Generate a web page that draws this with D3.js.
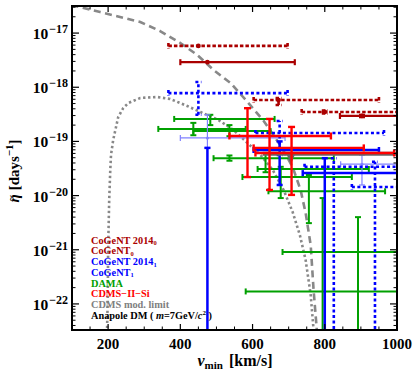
<!DOCTYPE html>
<html><head><meta charset="utf-8">
<script src="https://cdn.jsdelivr.net/npm/d3@7"></script>
<style>
body{margin:0;background:#fff}
svg{display:block}
text{font-family:"Liberation Serif","Times New Roman",serif;font-weight:bold}
</style>
</head><body><svg id="c" width="413" height="372"></svg>
<script>
// ---------- data (v_min in km/s, eta-tilde in days^-1) ----------
const xTicks = [200, 400, 600, 800, 1000];
const yDecades = [-22, -21, -20, -19, -18, -17];

const cogent2014_0 = [ // dotted dark red
  {v:450, vLo:367, vHi:697, eta:5.8e-18, etaLo:5.8e-18, etaHi:5.8e-18},
  {v:672, vLo:603, vHi:950, eta:5.8e-19, etaLo:4.7e-19, etaHi:6.3e-19},
  {v:800, vLo:736, vHi:1100, eta:3.5e-19, etaLo:3.3e-19, etaHi:3.7e-19}
];
const cogent_0 = [ // solid dark red
  {v:475, vLo:400, vHi:717, eta:2.9e-18, etaLo:2.9e-18, etaHi:2.9e-18},
  {v:903, vLo:842, vHi:1100, eta:2.95e-19, etaLo:2.8e-19, etaHi:3.1e-19}
];
const cogent2014_1 = [ // dotted blue
  {v:450, vLo:367, vHi:697, eta:7.8e-19, etaLo:3.1e-19, etaHi:1.25e-18},
  {v:675, vLo:608, vHi:964, eta:1.43e-19, etaLo:5.6e-20, etaHi:2.38e-19},
  {v:825, vLo:744, vHi:1100, eta:3.4e-20, etaLo:1e-25, etaHi:4.9e-20},
  {v:939, vLo:875, vHi:1100, eta:1.44e-20, etaLo:1e-25, etaHi:4.2e-20}
];
const cogent_1 = [ // solid blue
  {v:475, vLo:475, vHi:475, eta:7.6e-20, etaLo:1e-25, etaHi:7.6e-20},
  {v:675, vLo:603, vHi:950, eta:6.95e-20, etaLo:1.57e-20, etaHi:1.0e-19},
  {v:800, vLo:739, vHi:1100, eta:2.6e-20, etaLo:1e-25, etaHi:4.9e-20}
];
const cogent_1Faint = [ // light blue
  {v:475, vLo:400, vHi:690, eta:1.16e-19, etaLo:7.6e-20, etaHi:3.1e-19},
  {v:903, vLo:844, vHi:1100, eta:3.8e-20, etaLo:1.57e-20, etaHi:5.6e-20}
];
const dama = [
  {v:483, vLo:383, vHi:661, eta:2.6e-19, etaLo:2.0e-19, etaHi:3.1e-19},
  {v:436, vLo:339, vHi:581, eta:1.7e-19, etaLo:1.3e-19, etaHi:2.2e-19},
  {v:536, vLo:436, vHi:650, eta:1.55e-19, etaLo:1.25e-19, etaHi:2.0e-19},
  {v:536, vLo:492, vHi:825, eta:4.9e-20, etaLo:4.4e-20, etaHi:5.5e-20},
  {v:636, vLo:614, vHi:922, eta:3.1e-20, etaLo:2.7e-20, etaHi:6.1e-20},
  {v:756, vLo:572, vHi:875, eta:2.2e-20, etaLo:3.1e-21, etaHi:2.4e-20},
  {v:678, vLo:644, vHi:967, eta:1.2e-20, etaLo:9.0e-21, etaHi:3.4e-20},
  {v:892, vLo:683, vHi:1100, eta:9.1e-22, etaLo:1e-25, etaHi:4.0e-21},
  {v:794, vLo:581, vHi:1100, eta:1.7e-22, etaLo:1e-25, etaHi:9.0e-21}
];
const cdmsSi = [
  {v:586, vLo:536, vHi:817, eta:1.26e-19, etaLo:2.2e-20, etaHi:4.1e-19},
  {v:647, vLo:603, vHi:908, eta:7.6e-20, etaLo:1.27e-20, etaHi:2.6e-19},
  {v:708, vLo:608, vHi:992, eta:6.1e-20, etaLo:1.03e-20, etaHi:1.85e-19}
];
const cdmsModLimit = {vLo:628, vHi:1100, eta:5.9e-20, vArrow:706};

const curveDashed = [
  [100,3.44e-17],[108,3.16e-17],[122,3.03e-17],[178,2.45e-17],[233,1.98e-17],
  [289,1.60e-17],[344,1.09e-17],[400,6.56e-18],[447,3.94e-18],[492,2.08e-18],
  [539,1.20e-18],[586,5.35e-19],[631,2.38e-19],[678,8.24e-20],[711,3.37e-20],
  [733,1.27e-20],[747,4.78e-21],[761,1.22e-21],[769,1.81e-22],[778,3.30e-23],[782,1e-23]
];
const curveDotted = [
  [197,1e-23],[197,3.3e-23],[199,1.18e-22],[200,9.9e-22],[203,8.3e-21],[206,2.97e-20],
  [208,5.61e-20],[214,1.06e-19],[228,2.82e-19],[242,4.14e-19],[256,5.12e-19],
  [289,6.34e-19],[336,6.61e-19],[372,6.07e-19],[419,4.51e-19],[456,3.49e-19],
  [506,2.48e-19],[547,1.63e-19],[586,9.35e-20],[622,5.61e-20],[656,2.97e-20],
  [686,1.27e-20],[711,4.98e-21],[731,1.87e-21],[747,6.47e-22],[761,1.46e-22],[769,3.3e-23],[771,1e-23]
];

const legendItems = [
  {text:"CoGeNT 2014", sub:"0", color:"#aa0000"},
  {text:"CoGeNT", sub:"0", color:"#aa0000"},
  {text:"CoGeNT 2014", sub:"1", color:"#0000ff"},
  {text:"CoGeNT", sub:"1", color:"#0000ff"},
  {text:"DAMA", color:"#00a000"},
  {text:"CDMS\u2212II\u2212Si", color:"#ff0000"},
  {text:"CDMS mod. limit", color:"#808080"},
  {anapole:true, color:"#000000"}
];

// ---------- layout ----------
const L=72, R=397, T=6, B=330;
const x = d3.scaleLinear([100,1000],[L,R]);
const y = d3.scaleLog([3.30e-23,3.162e-17],[B,T]);
const svg = d3.select("#c");

svg.append("defs").append("clipPath").attr("id","clip")
  .append("rect").attr("x",L).attr("y",T).attr("width",R-L).attr("height",B-T);
const plot = svg.append("g").attr("clip-path","url(#clip)");

// curves
const line = d3.line().x(d=>x(d[0])).y(d=>y(d[1]));
plot.append("path").attr("d",line(curveDotted)).attr("fill","none")
  .attr("stroke","#888").attr("stroke-width",2.6).attr("stroke-dasharray","2.4,2.6");
plot.append("path").attr("d",line(curveDashed)).attr("fill","none")
  .attr("stroke","#888").attr("stroke-width",2.6).attr("stroke-dasharray","7,4.5");

function bars(data, o){
  const g = plot.append("g").attr("stroke",o.color).attr("stroke-width",o.w)
    .attr("fill","none");
  if(o.dash) g.attr("stroke-dasharray",o.dash);
  const c = o.cap;
  data.forEach(d=>{
    const cx=x(d.v), cy=y(d.eta);
    if(d.vHi>d.vLo){
      g.append("line").attr("x1",x(d.vLo)).attr("x2",x(d.vHi)).attr("y1",cy).attr("y2",cy);
      g.append("line").attr("x1",x(d.vLo)).attr("x2",x(d.vLo)).attr("y1",cy-c).attr("y2",cy+c).attr("stroke-dasharray",null);
      g.append("line").attr("x1",x(d.vHi)).attr("x2",x(d.vHi)).attr("y1",cy-c).attr("y2",cy+c).attr("stroke-dasharray",null);
    }
    if(d.etaHi>d.etaLo){
      g.append("line").attr("x1",cx).attr("x2",cx).attr("y1",y(d.etaLo)).attr("y2",y(d.etaHi));
      g.append("line").attr("x1",cx-c).attr("x2",cx+c).attr("y1",y(d.etaLo)).attr("y2",y(d.etaLo)).attr("stroke-dasharray",null);
      g.append("line").attr("x1",cx-c).attr("x2",cx+c).attr("y1",y(d.etaHi)).attr("y2",y(d.etaHi)).attr("stroke-dasharray",null);
    }
    if(o.marker){
      plot.append("circle").attr("cx",cx).attr("cy",cy).attr("r",o.marker).attr("fill",o.color);
    }
  });
}

bars(dama,{color:"#00a000",w:2,cap:3});
bars(cogent_1Faint,{color:"#8080ff",w:1.2,cap:3,marker:1.5});
bars(cogent_1,{color:"#0000ff",w:2.5,cap:3});
bars(cogent2014_1,{color:"#0000ff",w:2.6,cap:3,dash:"3,2.5"});
bars(cogent_0,{color:"#aa0000",w:2.2,cap:3,marker:2.4});
bars(cogent2014_0,{color:"#aa0000",w:2.6,cap:3,dash:"3.5,2",marker:2.4});

// CDMS modulation limit band with arrow
plot.append("line").attr("x1",x(cdmsModLimit.vLo)).attr("x2",x(cdmsModLimit.vHi))
  .attr("y1",y(cdmsModLimit.eta)).attr("y2",y(cdmsModLimit.eta))
  .attr("stroke","#666").attr("stroke-width",4);
{
  const ax=x(cdmsModLimit.vArrow), ay=y(cdmsModLimit.eta);
  plot.append("path").attr("d",`M${ax-4},${ay+1}L${ax+4},${ay+1}L${ax},${ay+11}Z`).attr("fill","#666");
}
bars(cdmsSi,{color:"#ff0000",w:2.4,cap:3.5});

// ---------- axes ----------
const ax = svg.append("g");
const xMinor = d3.range(150,1000,50).filter(v=>!xTicks.includes(v));
function xTickLines(yy, dir){
  xTicks.forEach(v=>ax.append("line").attr("x1",x(v)).attr("x2",x(v)).attr("y1",yy).attr("y2",yy+dir*6).attr("stroke","#000").attr("stroke-width",1.2));
  xMinor.forEach(v=>ax.append("line").attr("x1",x(v)).attr("x2",x(v)).attr("y1",yy).attr("y2",yy+dir*3.5).attr("stroke","#000").attr("stroke-width",1));
}
xTickLines(B,-1); xTickLines(T,1);
const yMinor=[];
for(let e=-23;e<=-17;e++) for(let k=2;k<=9;k++){const val=k*Math.pow(10,e); if(val>y.domain()[0]&&val<y.domain()[1]) yMinor.push(val);}
function yTickLines(xx, dir){
  yDecades.forEach(e=>{const yy=y(Math.pow(10,e)); ax.append("line").attr("x1",xx).attr("x2",xx+dir*7).attr("y1",yy).attr("y2",yy).attr("stroke","#000").attr("stroke-width",1.2);});
  yMinor.forEach(v=>{const yy=y(v); ax.append("line").attr("x1",xx).attr("x2",xx+dir*3.5).attr("y1",yy).attr("y2",yy).attr("stroke","#000").attr("stroke-width",1);});
}
yTickLines(L,1); yTickLines(R,-1);

svg.append("rect").attr("x",L).attr("y",T).attr("width",R-L).attr("height",B-T)
  .attr("fill","none").attr("stroke","#000").attr("stroke-width",2);

// x tick labels
xTicks.forEach(v=>svg.append("text").attr("x",x(v)).attr("y",349).attr("text-anchor","middle")
  .attr("font-size",15).text(v));
// y tick labels
yDecades.forEach(e=>{
  const t=svg.append("text").attr("x",68).attr("y",y(Math.pow(10,e))+6).attr("text-anchor","end").attr("font-size",15.5);
  t.append("tspan").text("10");
  t.append("tspan").attr("font-size",12).attr("dy",-6).attr("dx",1).text("\u2212"+Math.abs(e));
});

// axis titles
{
  const t=svg.append("text").attr("x",235).attr("y",366).attr("text-anchor","middle").attr("font-size",16);
  t.append("tspan").attr("font-style","italic").text("v");
  t.append("tspan").attr("font-size",11).attr("dy",3).text("min");
  t.append("tspan").attr("dy",-3).attr("dx",6).text("[km/s]");
}
{
  const g=svg.append("g").attr("transform","translate(19,171) rotate(-90)");
  const t=g.append("text").attr("text-anchor","middle").attr("font-size",15);
  t.append("tspan").attr("font-style","italic").text("\u03B7");
  t.append("tspan").attr("dx",4).text("[days");
  t.append("tspan").attr("font-size",11).attr("dy",-6).text("\u22121");
  t.append("tspan").attr("dy",6).text("]");
  const bb=t.node().getBBox();
  g.append("text").attr("x",bb.x+4.5).attr("y",-5.5).attr("text-anchor","middle")
    .attr("font-size",11).attr("font-weight","normal").text("~");
}

// legend
legendItems.forEach((it,i)=>{
  const t=svg.append("text").attr("x",91).attr("y",243.5+i*10.75).attr("font-size",10.3).attr("fill",it.color);
  if(it.anapole){
    t.append("tspan").text("Anapole DM ( ");
    t.append("tspan").attr("font-style","italic").text("m");
    t.append("tspan").text("=7GeV/");
    t.append("tspan").attr("font-style","italic").text("c");
    t.append("tspan").attr("font-size",7).attr("dy",-4).text("2");
    t.append("tspan").attr("dy",4).text(" )");
  } else {
    t.append("tspan").text(it.text);
    if(it.sub) t.append("tspan").attr("font-size",6.5).attr("dy",1.5).text(it.sub);
  }
});
</script>
</body></html>
